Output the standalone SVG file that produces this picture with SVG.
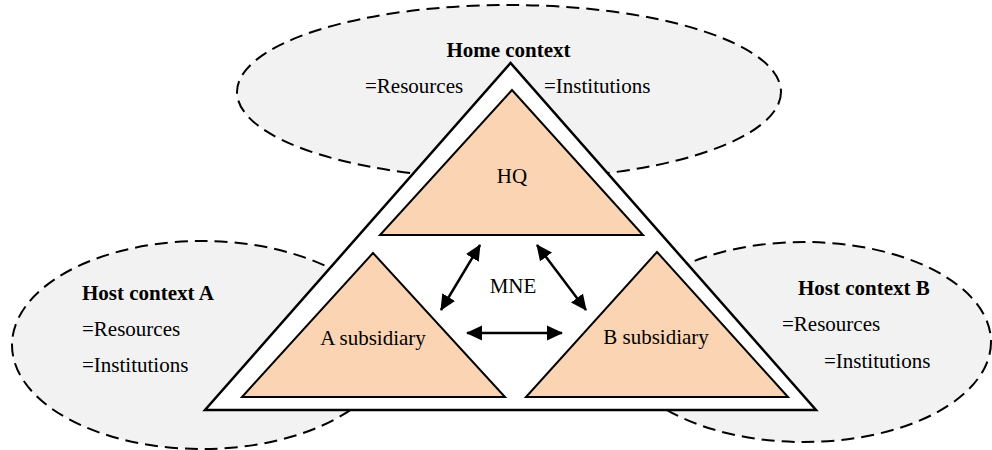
<svg xmlns="http://www.w3.org/2000/svg" width="992" height="450" viewBox="0 0 992 450">
  <style>
    .ctx { fill: #f2f2f2; stroke: #000; stroke-width: 2; stroke-dasharray: 13 7; }
    .outer { fill: #fff; stroke: #000; stroke-width: 2.5; stroke-linejoin: miter; }
    .unit { fill: #fbd4b4; stroke: #000; stroke-width: 2; stroke-linejoin: miter; }
    text { font-family: "Liberation Serif", "Times New Roman", "DejaVu Serif", serif; font-size: 21px; fill: #000; }
    .b { font-weight: bold; }
    .mid { text-anchor: middle; }
    .arrow { stroke: #000; stroke-width: 2.5; fill: none; marker-start: url(#head); marker-end: url(#head); }
  </style>
  <defs>
    <marker id="head" viewBox="0 0 16 16" refX="15" refY="8" markerWidth="16" markerHeight="16" markerUnits="userSpaceOnUse" orient="auto-start-reverse">
      <path d="M0,0.5 L16,8 L0,15.5 Z" fill="#000"/>
    </marker>
  </defs>

  <g id="home-context">
    <ellipse class="ctx" cx="509" cy="92" rx="272" ry="87"/>
  </g>
  <g id="host-context-a">
    <ellipse class="ctx" cx="202" cy="345" rx="190" ry="104"/>
  </g>
  <g id="host-context-b">
    <ellipse class="ctx" cx="804" cy="342" rx="187" ry="100"/>
  </g>

  <g id="mne">
    <polygon class="outer" points="510.5,63 205,410 816,410"/>
    <text class="mid" x="513" y="293" font-family="Liberation Serif, serif">MNE</text>
  </g>

  <g id="hq">
    <polygon class="unit" points="512,90 380,235 643,235"/>
    <text class="mid" x="512" y="183" font-family="Liberation Serif, serif">HQ</text>
  </g>
  <g id="a-subsidiary">
    <polygon class="unit" points="373,253 242,397 505,397"/>
    <text class="mid" x="373" y="345" font-family="Liberation Serif, serif">A subsidiary</text>
  </g>
  <g id="b-subsidiary">
    <polygon class="unit" points="657,252 526,397 788,397"/>
    <text class="mid" x="656" y="344" font-family="Liberation Serif, serif">B subsidiary</text>
  </g>

  <g id="home-context-labels" font-family="Liberation Serif, serif">
    <text class="b mid" x="508.5" y="57">Home context</text>
    <text x="365" y="93">=Resources</text>
    <text x="544" y="93">=Institutions</text>
  </g>
  <g id="host-context-a-labels" font-family="Liberation Serif, serif">
    <text class="b" x="82" y="300">Host context A</text>
    <text x="82" y="336">=Resources</text>
    <text x="82" y="372">=Institutions</text>
  </g>
  <g id="host-context-b-labels" font-family="Liberation Serif, serif">
    <text class="b" x="798" y="295">Host context B</text>
    <text x="782" y="331">=Resources</text>
    <text x="824" y="368">=Institutions</text>
  </g>

  <g id="connectors">
    <line class="arrow" x1="480" y1="245" x2="441" y2="310"/>
    <line class="arrow" x1="537" y1="245" x2="586" y2="310"/>
    <line class="arrow" x1="467" y1="333" x2="562" y2="333"/>
  </g>
</svg>
